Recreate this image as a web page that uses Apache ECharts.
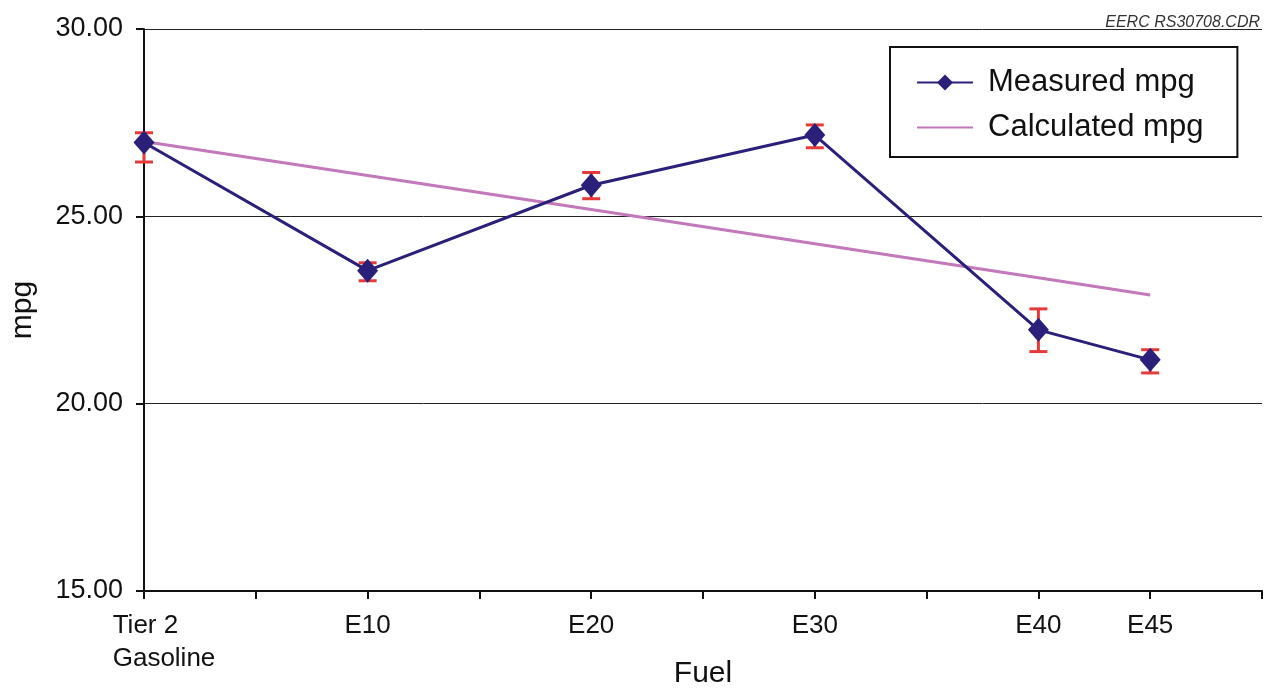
<!DOCTYPE html>
<html>
<head>
<meta charset="utf-8">
<script src="https://cdn.jsdelivr.net/npm/echarts@6/dist/echarts.min.js"></script>
<style>html,body{margin:0;padding:0;background:#fff}#c{width:1271px;height:692px}</style>
</head>
<body>
<div id="c"></div>
<script>
// Ethanol blend level (% ethanol) for each fuel
const fuelX = [0, 10, 20, 30, 40, 45];
const fuelLabels = {0: 'Tier 2\nGasoline', 10: 'E10', 20: 'E20', 30: 'E30', 40: 'E40', 45: 'E45'};
const measuredMpg = [26.97, 23.55, 25.83, 27.17, 21.97, 21.17];
const measuredLow = [26.45, 23.28, 25.47, 26.83, 21.39, 20.82];
const measuredHigh = [27.23, 23.76, 26.17, 27.44, 22.53, 21.44];
const calculatedMpg = [27.0, 26.09, 25.18, 24.27, 23.36, 22.9];
const yTicks = [15, 20, 25, 30];

const chart = echarts.init(document.getElementById('c'));
const font = '"Liberation Sans", Arial, sans-serif';
const navy = '#2b2079';
const pink = '#c278b9';
const red = '#e53a3a';

chart.setOption({
  animation: false,
  backgroundColor: '#fff',
  textStyle: {fontFamily: font, color: '#111'},
  title: {
    text: 'EERC RS30708.CDR',
    right: 6, top: 10,
    textStyle: {fontFamily: font, fontSize: 16, fontStyle: 'italic', fontWeight: 'normal', color: '#333'}
  },
  legend: {
    orient: 'vertical',
    left: 890, top: 47,
    padding: [20, 34, 14, 26],
    borderColor: '#111', borderWidth: 2,
    itemWidth: 56, itemHeight: 20, itemGap: 14,
    textStyle: {fontFamily: font, fontSize: 31, color: '#111', padding: [0, 0, 0, 10]},
    data: [
      {name: 'Measured mpg'},
      {name: 'Calculated mpg', itemStyle: {opacity: 0}}
    ]
  },
  grid: {left: 144, right: 9, top: 29, bottom: 101, outerBoundsMode: 'none', containLabel: false},
  xAxis: {
    type: 'value', min: 0, max: 50, interval: 5,
    name: 'Fuel', nameLocation: 'middle', nameGap: 68, nameMoveOverlap: false,
    nameTextStyle: {fontFamily: font, fontSize: 30, color: '#111'},
    axisLine: {lineStyle: {color: '#111', width: 2}},
    axisTick: {length: 8, lineStyle: {color: '#111', width: 2}},
    splitLine: {show: false},
    axisLabel: {
      fontFamily: font, fontSize: 26, color: '#111', margin: 18, lineHeight: 33,
      formatter: function (v) {
        if (v === 0) return '{t|Tier 2}\n{t|Gasoline}';
        return fuelLabels[v] || '';
      },
      rich: {t: {fontFamily: font, fontSize: 26, color: '#111', align: 'left', padding: [0, 0, 0, 40], lineHeight: 33}}
    }
  },
  yAxis: {
    type: 'value', min: 15, max: 30, interval: 5,
    name: 'mpg', nameLocation: 'middle', nameGap: 106, nameMoveOverlap: false,
    nameTextStyle: {fontFamily: font, fontSize: 30, color: '#111'},
    axisLine: {show: true, lineStyle: {color: '#111', width: 2}},
    axisTick: {show: true, length: 8, lineStyle: {color: '#111', width: 2}},
    splitLine: {show: true, lineStyle: {color: '#222', width: 1}},
    axisLabel: {
      fontFamily: font, fontSize: 27, color: '#111', margin: 21,
      formatter: function (v) { return yTicks.indexOf(v) >= 0 ? v.toFixed(2) : ''; }
    }
  },
  series: [
    {
      name: 'Calculated mpg', type: 'line',
      data: fuelX.map((x, i) => [x, calculatedMpg[i]]),
      symbol: 'none', lineStyle: {color: pink, width: 3}, itemStyle: {color: pink}, z: 2
    },
    {
      name: 'err', type: 'custom', z: 3,
      data: fuelX.map((x, i) => [x, measuredLow[i], measuredHigh[i]]),
      renderItem: function (params, api) {
        const lo = api.coord([api.value(0), api.value(1)]);
        const hi = api.coord([api.value(0), api.value(2)]);
        const hw = 9;
        const st = {stroke: red, lineWidth: 3};
        return {type: 'group', children: [
          {type: 'line', shape: {x1: lo[0], y1: lo[1], x2: hi[0], y2: hi[1]}, style: st},
          {type: 'line', shape: {x1: lo[0] - hw, y1: lo[1], x2: lo[0] + hw, y2: lo[1]}, style: st},
          {type: 'line', shape: {x1: hi[0] - hw, y1: hi[1], x2: hi[0] + hw, y2: hi[1]}, style: st}
        ]};
      }
    },
    {
      name: 'Measured mpg', type: 'line',
      data: fuelX.map((x, i) => [x, measuredMpg[i]]),
      symbol: 'diamond', symbolSize: [21, 24],
      lineStyle: {color: navy, width: 3}, itemStyle: {color: navy}, z: 4
    }
  ]
});
</script>
</body>
</html>
